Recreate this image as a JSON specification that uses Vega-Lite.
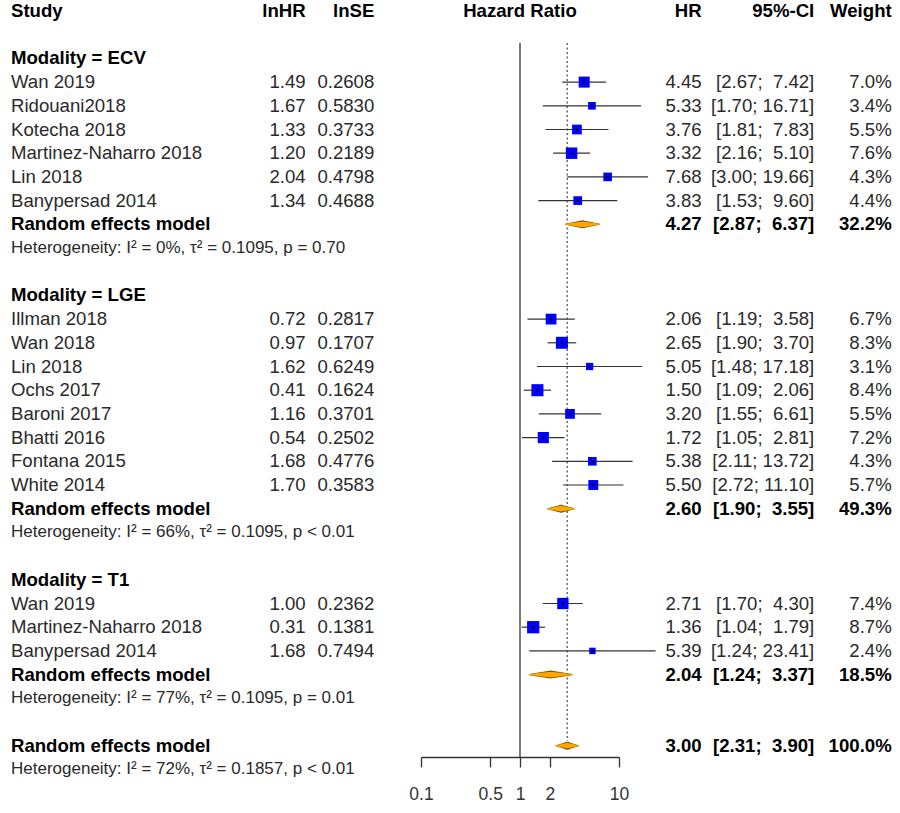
{
  "$schema": "https://vega.github.io/schema/vega-lite/v6.json",
  "width": 900,
  "height": 757,
  "autosize": {"type": "none"},
  "padding": {"left": 0, "top": 0, "right": 0, "bottom": 56},
  "background": "white",
  "config": {
    "view": {"stroke": null},
    "text": {"font": "Liberation Sans", "baseline": "middle"},
    "axisX": {"tickSize": 10, "tickWidth": 1.3, "tickColor": "#333333", "domainColor": "#333333", "domainWidth": 1.3, "labelFont": "Liberation Sans", "labelFontSize": 17.5, "labelColor": "#333333", "labelPadding": 18, "labelFlush": false, "grid": false}
  },
  "data": {"values": [
    {"row": 0, "kind": "header", "label": "Study", "lnHRt": "lnHR", "lnSEt": "lnSE", "mid": "Hazard Ratio", "hrText": "HR", "ciText": "95%-CI", "wText": "Weight"},
    {"row": 2, "kind": "group", "label": "Modality = ECV"},
    {"row": 3, "kind": "study", "label": "Wan 2019", "lnHRt": "1.49", "lnSEt": "0.2608", "HR": 4.45, "lo": 2.67, "hi": 7.42, "w": 7.0, "hrText": "4.45", "ciText": "[2.67;\u00a0\u00a07.42]", "wText": "7.0%"},
    {"row": 4, "kind": "study", "label": "Ridouani2018", "lnHRt": "1.67", "lnSEt": "0.5830", "HR": 5.33, "lo": 1.70, "hi": 16.71, "w": 3.4, "hrText": "5.33", "ciText": "[1.70; 16.71]", "wText": "3.4%"},
    {"row": 5, "kind": "study", "label": "Kotecha 2018", "lnHRt": "1.33", "lnSEt": "0.3733", "HR": 3.76, "lo": 1.81, "hi": 7.83, "w": 5.5, "hrText": "3.76", "ciText": "[1.81;\u00a0\u00a07.83]", "wText": "5.5%"},
    {"row": 6, "kind": "study", "label": "Martinez-Naharro 2018", "lnHRt": "1.20", "lnSEt": "0.2189", "HR": 3.32, "lo": 2.16, "hi": 5.10, "w": 7.6, "hrText": "3.32", "ciText": "[2.16;\u00a0\u00a05.10]", "wText": "7.6%"},
    {"row": 7, "kind": "study", "label": "Lin 2018", "lnHRt": "2.04", "lnSEt": "0.4798", "HR": 7.68, "lo": 3.00, "hi": 19.66, "w": 4.3, "hrText": "7.68", "ciText": "[3.00; 19.66]", "wText": "4.3%"},
    {"row": 8, "kind": "study", "label": "Banypersad 2014", "lnHRt": "1.34", "lnSEt": "0.4688", "HR": 3.83, "lo": 1.53, "hi": 9.60, "w": 4.4, "hrText": "3.83", "ciText": "[1.53;\u00a0\u00a09.60]", "wText": "4.4%"},
    {"row": 9, "kind": "summary", "label": "Random effects model", "HR": 4.27, "lo": 2.87, "hi": 6.37, "hrText": "4.27", "ciText": "[2.87;\u00a0\u00a06.37]", "wText": "32.2%"},
    {"row": 10, "kind": "het", "label": "Heterogeneity: I² = 0%, τ² = 0.1095, p = 0.70"},
    {"row": 12, "kind": "group", "label": "Modality = LGE"},
    {"row": 13, "kind": "study", "label": "Illman 2018", "lnHRt": "0.72", "lnSEt": "0.2817", "HR": 2.06, "lo": 1.19, "hi": 3.58, "w": 6.7, "hrText": "2.06", "ciText": "[1.19;\u00a0\u00a03.58]", "wText": "6.7%"},
    {"row": 14, "kind": "study", "label": "Wan 2018", "lnHRt": "0.97", "lnSEt": "0.1707", "HR": 2.65, "lo": 1.90, "hi": 3.70, "w": 8.3, "hrText": "2.65", "ciText": "[1.90;\u00a0\u00a03.70]", "wText": "8.3%"},
    {"row": 15, "kind": "study", "label": "Lin 2018", "lnHRt": "1.62", "lnSEt": "0.6249", "HR": 5.05, "lo": 1.48, "hi": 17.18, "w": 3.1, "hrText": "5.05", "ciText": "[1.48; 17.18]", "wText": "3.1%"},
    {"row": 16, "kind": "study", "label": "Ochs 2017", "lnHRt": "0.41", "lnSEt": "0.1624", "HR": 1.50, "lo": 1.09, "hi": 2.06, "w": 8.4, "hrText": "1.50", "ciText": "[1.09;\u00a0\u00a02.06]", "wText": "8.4%"},
    {"row": 17, "kind": "study", "label": "Baroni 2017", "lnHRt": "1.16", "lnSEt": "0.3701", "HR": 3.20, "lo": 1.55, "hi": 6.61, "w": 5.5, "hrText": "3.20", "ciText": "[1.55;\u00a0\u00a06.61]", "wText": "5.5%"},
    {"row": 18, "kind": "study", "label": "Bhatti 2016", "lnHRt": "0.54", "lnSEt": "0.2502", "HR": 1.72, "lo": 1.05, "hi": 2.81, "w": 7.2, "hrText": "1.72", "ciText": "[1.05;\u00a0\u00a02.81]", "wText": "7.2%"},
    {"row": 19, "kind": "study", "label": "Fontana 2015", "lnHRt": "1.68", "lnSEt": "0.4776", "HR": 5.38, "lo": 2.11, "hi": 13.72, "w": 4.3, "hrText": "5.38", "ciText": "[2.11; 13.72]", "wText": "4.3%"},
    {"row": 20, "kind": "study", "label": "White 2014", "lnHRt": "1.70", "lnSEt": "0.3583", "HR": 5.50, "lo": 2.72, "hi": 11.10, "w": 5.7, "hrText": "5.50", "ciText": "[2.72; 11.10]", "wText": "5.7%"},
    {"row": 21, "kind": "summary", "label": "Random effects model", "HR": 2.60, "lo": 1.90, "hi": 3.55, "hrText": "2.60", "ciText": "[1.90;\u00a0\u00a03.55]", "wText": "49.3%"},
    {"row": 22, "kind": "het", "label": "Heterogeneity: I² = 66%, τ² = 0.1095, p < 0.01"},
    {"row": 24, "kind": "group", "label": "Modality = T1"},
    {"row": 25, "kind": "study", "label": "Wan 2019", "lnHRt": "1.00", "lnSEt": "0.2362", "HR": 2.71, "lo": 1.70, "hi": 4.30, "w": 7.4, "hrText": "2.71", "ciText": "[1.70;\u00a0\u00a04.30]", "wText": "7.4%"},
    {"row": 26, "kind": "study", "label": "Martinez-Naharro 2018", "lnHRt": "0.31", "lnSEt": "0.1381", "HR": 1.36, "lo": 1.04, "hi": 1.79, "w": 8.7, "hrText": "1.36", "ciText": "[1.04;\u00a0\u00a01.79]", "wText": "8.7%"},
    {"row": 27, "kind": "study", "label": "Banypersad 2014", "lnHRt": "1.68", "lnSEt": "0.7494", "HR": 5.39, "lo": 1.24, "hi": 23.41, "w": 2.4, "hrText": "5.39", "ciText": "[1.24; 23.41]", "wText": "2.4%"},
    {"row": 28, "kind": "summary", "label": "Random effects model", "HR": 2.04, "lo": 1.24, "hi": 3.37, "hrText": "2.04", "ciText": "[1.24;\u00a0\u00a03.37]", "wText": "18.5%"},
    {"row": 29, "kind": "het", "label": "Heterogeneity: I² = 77%, τ² = 0.1095, p = 0.01"},
    {"row": 31, "kind": "summary", "label": "Random effects model", "HR": 3.00, "lo": 2.31, "hi": 3.90, "hrText": "3.00", "ciText": "[2.31;\u00a0\u00a03.90]", "wText": "100.0%"},
    {"row": 32, "kind": "het", "label": "Heterogeneity: I² = 72%, τ² = 0.1857, p < 0.01"}
  ]},
  "encoding": {
    "y": {"field": "row", "type": "quantitative", "scale": {"domain": [0, 32], "range": [11, 769.4], "zero": false, "nice": false}, "axis": null}
  },
  "layer": [
    {
      "transform": [{"filter": "datum.kind === 'header'"}],
      "mark": {"type": "rule", "color": "#333333", "strokeWidth": 1.3},
      "encoding": {
        "x": {"datum": 1, "type": "quantitative", "scale": {"type": "log", "domain": [0.1, 10], "range": [421, 619], "nice": false}, "axis": {"values": [0.1, 0.5, 1, 2, 10], "format": "~g", "title": null}},
        "y": {"datum": 1.35, "type": "quantitative", "scale": {"domain": [0, 32], "range": [11, 769.4], "zero": false, "nice": false}, "axis": null},
        "y2": {"datum": 31.48}
      }
    },
    {
      "transform": [{"filter": "datum.kind === 'header'"}],
      "mark": {"type": "rule", "color": "#555555", "strokeWidth": 1.3, "strokeDash": [2, 2.5]},
      "encoding": {
        "x": {"datum": 3.0, "type": "quantitative", "scale": {"type": "log", "domain": [0.1, 10], "range": [421, 619], "nice": false}, "axis": {"values": [0.1, 0.5, 1, 2, 10], "format": "~g", "title": null}},
        "y": {"datum": 1.35, "type": "quantitative", "scale": {"domain": [0, 32], "range": [11, 769.4], "zero": false, "nice": false}, "axis": null},
        "y2": {"datum": 30.8}
      }
    },
    {
      "transform": [{"filter": "datum.kind === 'study'"}],
      "mark": {"type": "rule", "color": "#333333", "strokeWidth": 1.2},
      "encoding": {
        "x": {"field": "lo", "type": "quantitative", "scale": {"type": "log", "domain": [0.1, 10], "range": [421, 619], "nice": false}, "axis": {"values": [0.1, 0.5, 1, 2, 10], "format": "~g", "title": null}},
        "x2": {"field": "hi"}
      }
    },
    {
      "transform": [{"filter": "datum.kind === 'study'"}],
      "mark": {"type": "point", "shape": "square", "filled": true, "color": "#0000ff", "opacity": 1},
      "encoding": {
        "x": {"field": "HR", "type": "quantitative", "scale": {"type": "log", "domain": [0.1, 10], "range": [421, 619], "nice": false}, "axis": {"values": [0.1, 0.5, 1, 2, 10], "format": "~g", "title": null}},
        "size": {"field": "w", "type": "quantitative", "scale": {"domain": [0, 10], "range": [0, 173], "zero": true}, "legend": null}
      }
    },
    {
      "transform": [{"filter": "datum.kind === 'study'"}],
      "mark": {"type": "point", "shape": "square", "filled": true, "color": "#000000", "opacity": 1, "size": 5},
      "encoding": {
        "x": {"field": "HR", "type": "quantitative", "scale": {"type": "log", "domain": [0.1, 10], "range": [421, 619], "nice": false}, "axis": {"values": [0.1, 0.5, 1, 2, 10], "format": "~g", "title": null}}
      }
    },
    {
      "transform": [{"filter": "datum.kind === 'summary'"}, {"fold": ["lo", "HR", "hi"]}],
      "mark": {"type": "trail", "color": "#7a5200"},
      "encoding": {
        "x": {"field": "value", "type": "quantitative", "scale": {"type": "log", "domain": [0.1, 10], "range": [421, 619], "nice": false}, "axis": {"values": [0.1, 0.5, 1, 2, 10], "format": "~g", "title": null}},
        "detail": {"field": "row", "type": "nominal"},
        "size": {"condition": {"test": "datum.key === 'HR'", "value": 8}, "value": 1.1}
      }
    },
    {
      "transform": [{"filter": "datum.kind === 'summary'"}, {"fold": ["lo", "HR", "hi"]}],
      "mark": {"type": "trail", "color": "#ffa500"},
      "encoding": {
        "x": {"field": "value", "type": "quantitative", "scale": {"type": "log", "domain": [0.1, 10], "range": [421, 619], "nice": false}, "axis": {"values": [0.1, 0.5, 1, 2, 10], "format": "~g", "title": null}},
        "detail": {"field": "row", "type": "nominal"},
        "size": {"condition": {"test": "datum.key === 'HR'", "value": 5.8}, "value": 0}
      }
    },
    {
      "transform": [{"filter": "datum.kind === 'study'"}],
      "mark": {"type": "text", "align": "left", "fontSize": 18.6, "color": "#2a2a2a"},
      "encoding": {
        "x": {"datum": 7.22e-6, "type": "quantitative", "scale": {"type": "log", "domain": [0.1, 10], "range": [421, 619], "nice": false}, "axis": {"values": [0.1, 0.5, 1, 2, 10], "format": "~g", "title": null}},
        "text": {"field": "label"}
      }
    },
    {
      "transform": [{"filter": "datum.kind === 'header' || datum.kind === 'group' || datum.kind === 'summary'"}],
      "mark": {"type": "text", "align": "left", "fontSize": 18.6, "fontWeight": "bold", "color": "#000000"},
      "encoding": {
        "x": {"datum": 7.22e-6, "type": "quantitative", "scale": {"type": "log", "domain": [0.1, 10], "range": [421, 619], "nice": false}, "axis": {"values": [0.1, 0.5, 1, 2, 10], "format": "~g", "title": null}},
        "text": {"field": "label"}
      }
    },
    {
      "transform": [{"filter": "datum.kind === 'het'"}],
      "mark": {"type": "text", "align": "left", "fontSize": 17, "color": "#2a2a2a"},
      "encoding": {
        "x": {"datum": 7.22e-6, "type": "quantitative", "scale": {"type": "log", "domain": [0.1, 10], "range": [421, 619], "nice": false}, "axis": {"values": [0.1, 0.5, 1, 2, 10], "format": "~g", "title": null}},
        "text": {"field": "label"}
      }
    },
    {
      "transform": [{"filter": "datum.kind === 'study'"}],
      "mark": {"type": "text", "align": "right", "fontSize": 18.6, "color": "#2a2a2a"},
      "encoding": {
        "x": {"datum": 0.006847, "type": "quantitative", "scale": {"type": "log", "domain": [0.1, 10], "range": [421, 619], "nice": false}, "axis": {"values": [0.1, 0.5, 1, 2, 10], "format": "~g", "title": null}},
        "text": {"field": "lnHRt"}
      }
    },
    {
      "transform": [{"filter": "datum.kind === 'study'"}],
      "mark": {"type": "text", "align": "right", "fontSize": 18.6, "color": "#2a2a2a"},
      "encoding": {
        "x": {"datum": 0.03375, "type": "quantitative", "scale": {"type": "log", "domain": [0.1, 10], "range": [421, 619], "nice": false}, "axis": {"values": [0.1, 0.5, 1, 2, 10], "format": "~g", "title": null}},
        "text": {"field": "lnSEt"}
      }
    },
    {
      "transform": [{"filter": "datum.kind === 'study'"}],
      "mark": {"type": "text", "align": "right", "fontSize": 18.6, "color": "#2a2a2a"},
      "encoding": {
        "x": {"datum": 68.45, "type": "quantitative", "scale": {"type": "log", "domain": [0.1, 10], "range": [421, 619], "nice": false}, "axis": {"values": [0.1, 0.5, 1, 2, 10], "format": "~g", "title": null}},
        "text": {"field": "hrText"}
      }
    },
    {
      "transform": [{"filter": "datum.kind === 'study'"}],
      "mark": {"type": "text", "align": "right", "fontSize": 18.6, "color": "#2a2a2a"},
      "encoding": {
        "x": {"datum": 939, "type": "quantitative", "scale": {"type": "log", "domain": [0.1, 10], "range": [421, 619], "nice": false}, "axis": {"values": [0.1, 0.5, 1, 2, 10], "format": "~g", "title": null}},
        "text": {"field": "ciText"}
      }
    },
    {
      "transform": [{"filter": "datum.kind === 'study'"}],
      "mark": {"type": "text", "align": "right", "fontSize": 18.6, "color": "#2a2a2a"},
      "encoding": {
        "x": {"datum": 5682, "type": "quantitative", "scale": {"type": "log", "domain": [0.1, 10], "range": [421, 619], "nice": false}, "axis": {"values": [0.1, 0.5, 1, 2, 10], "format": "~g", "title": null}},
        "text": {"field": "wText"}
      }
    },
    {
      "transform": [{"filter": "datum.kind === 'header'"}],
      "mark": {"type": "text", "align": "right", "fontSize": 18.6, "fontWeight": "bold", "color": "#000000"},
      "encoding": {
        "x": {"datum": 0.006847, "type": "quantitative", "scale": {"type": "log", "domain": [0.1, 10], "range": [421, 619], "nice": false}, "axis": {"values": [0.1, 0.5, 1, 2, 10], "format": "~g", "title": null}},
        "text": {"field": "lnHRt"}
      }
    },
    {
      "transform": [{"filter": "datum.kind === 'header'"}],
      "mark": {"type": "text", "align": "right", "fontSize": 18.6, "fontWeight": "bold", "color": "#000000"},
      "encoding": {
        "x": {"datum": 0.03375, "type": "quantitative", "scale": {"type": "log", "domain": [0.1, 10], "range": [421, 619], "nice": false}, "axis": {"values": [0.1, 0.5, 1, 2, 10], "format": "~g", "title": null}},
        "text": {"field": "lnSEt"}
      }
    },
    {
      "transform": [{"filter": "datum.kind === 'header'"}],
      "mark": {"type": "text", "align": "center", "fontSize": 18.6, "fontWeight": "bold", "color": "#000000"},
      "encoding": {
        "x": {"datum": 1, "type": "quantitative", "scale": {"type": "log", "domain": [0.1, 10], "range": [421, 619], "nice": false}, "axis": {"values": [0.1, 0.5, 1, 2, 10], "format": "~g", "title": null}},
        "text": {"field": "mid"}
      }
    },
    {
      "transform": [{"filter": "datum.kind === 'header' || datum.kind === 'summary'"}],
      "mark": {"type": "text", "align": "right", "fontSize": 18.6, "fontWeight": "bold", "color": "#000000"},
      "encoding": {
        "x": {"datum": 68.45, "type": "quantitative", "scale": {"type": "log", "domain": [0.1, 10], "range": [421, 619], "nice": false}, "axis": {"values": [0.1, 0.5, 1, 2, 10], "format": "~g", "title": null}},
        "text": {"field": "hrText"}
      }
    },
    {
      "transform": [{"filter": "datum.kind === 'header' || datum.kind === 'summary'"}],
      "mark": {"type": "text", "align": "right", "fontSize": 18.6, "fontWeight": "bold", "color": "#000000"},
      "encoding": {
        "x": {"datum": 939, "type": "quantitative", "scale": {"type": "log", "domain": [0.1, 10], "range": [421, 619], "nice": false}, "axis": {"values": [0.1, 0.5, 1, 2, 10], "format": "~g", "title": null}},
        "text": {"field": "ciText"}
      }
    },
    {
      "transform": [{"filter": "datum.kind === 'header' || datum.kind === 'summary'"}],
      "mark": {"type": "text", "align": "right", "fontSize": 18.6, "fontWeight": "bold", "color": "#000000"},
      "encoding": {
        "x": {"datum": 5682, "type": "quantitative", "scale": {"type": "log", "domain": [0.1, 10], "range": [421, 619], "nice": false}, "axis": {"values": [0.1, 0.5, 1, 2, 10], "format": "~g", "title": null}},
        "text": {"field": "wText"}
      }
    }
  ]
}
